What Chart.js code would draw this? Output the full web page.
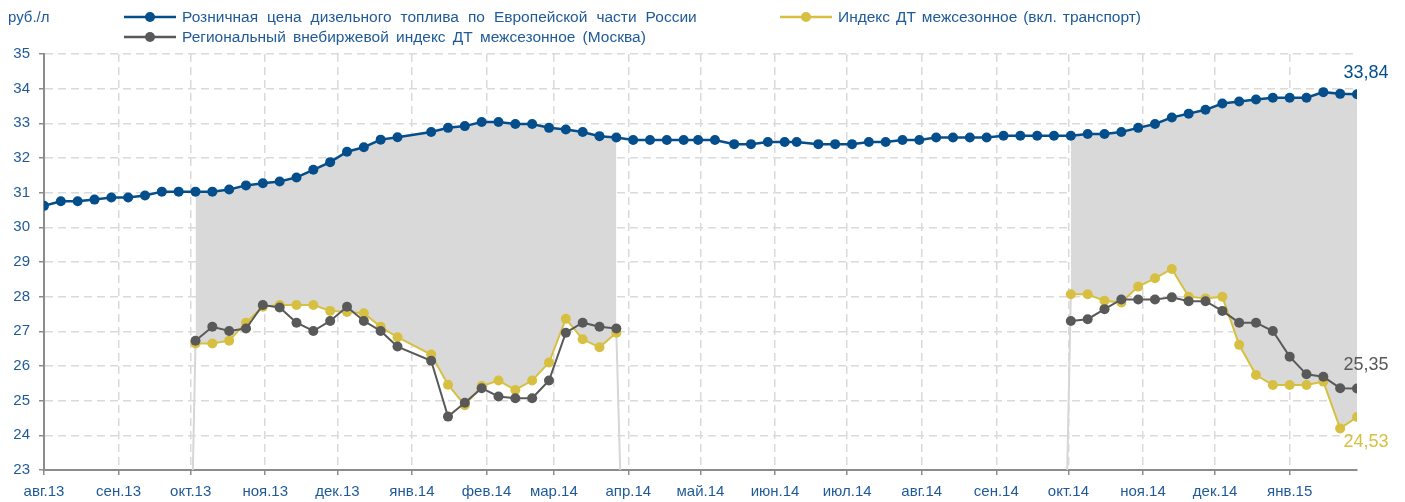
<!DOCTYPE html>
<html>
<head>
<meta charset="utf-8">
<script src="https://cdn.jsdelivr.net/npm/chart.js@4.4.0/dist/chart.umd.min.js"></script>
<style>
  html, body { margin: 0; padding: 0; background: #fff; }
  #wrap { width: 1405px; height: 502px; }
</style>
</head>
<body>
<div id="wrap"><canvas id="chart"></canvas></div>
<script>
// дни от 1 авг 2013
const indexDays = [0,7,14,21,28,35,42,49,56,63,70,77,84,91,98,105,112,119,126,133,140,147,
  161,168,175,182,189,196,203,210,217,224,231,238,245,252,259,266,272,279,
  287,294,301,308,313,322,329,336,343,350,357,364,371,378,385,392,399,406,413,420,
  427,434,441,448,455,462,469,476,483,490,497,504,511,518,525,532,539,546];

// Розничная цена ДТ, Европейская часть
const retail = [30.62,30.75,30.75,30.80,30.86,30.86,30.92,31.03,31.03,31.03,31.03,31.09,31.21,31.27,31.32,31.44,31.66,31.88,32.18,32.31,32.53,32.60,
  32.75,32.87,32.92,33.04,33.04,32.98,32.98,32.87,32.82,32.75,32.63,32.59,32.52,32.52,32.52,32.52,32.52,32.52,
  32.40,32.40,32.46,32.46,32.46,32.40,32.40,32.40,32.46,32.46,32.52,32.52,32.59,32.59,32.59,32.59,32.64,32.64,32.64,32.64,
  32.64,32.69,32.69,32.75,32.87,32.98,33.17,33.28,33.39,33.57,33.63,33.69,33.74,33.74,33.74,33.90,33.85,33.84];

// Региональный внебиржевой индекс (Москва)
const regional = [null,null,null,null,null,null,null,null,null,
  26.73,27.13,27.01,27.08,27.76,27.69,27.25,27.01,27.30,27.71,27.30,27.01,26.56,
  26.15,24.54,24.94,25.36,25.12,25.07,25.07,25.58,26.96,27.25,27.13,27.08,
  null,null,null,null,null,null,null,null,null,null,null,null,null,null,null,null,null,null,null,null,null,null,null,null,null,null,
  27.30,27.35,27.64,27.92,27.92,27.92,27.98,27.87,27.87,27.59,27.25,27.25,27.01,26.27,25.76,25.69,25.36,25.35];

// Индекс ДТ межсезонное (вкл. транспорт)
const transport = [null,null,null,null,null,null,null,null,null,
  26.65,26.65,26.73,27.25,27.71,27.76,27.76,27.76,27.59,27.56,27.52,27.13,26.83,
  26.33,25.46,24.87,25.42,25.58,25.31,25.58,26.10,27.36,26.77,26.54,26.96,
  null,null,null,null,null,null,null,null,null,null,null,null,null,null,null,null,null,null,null,null,null,null,null,null,null,null,
  28.07,28.07,27.88,27.83,28.29,28.53,28.80,28.00,27.95,28.00,26.61,25.74,25.45,25.45,25.45,25.55,24.20,24.53];

// края серой области (день точки -> день у оси)
const edgeDrops = [[63, 61.9], [238, 239.6], [427, 425.5]];

const monthDays = [0,31,61,92,122,153,184,212,243,273,304,334,365,396,426,457,487,518];
const monthLabels = ['авг.13','сен.13','окт.13','ноя.13','дек.13','янв.14','фев.14','мар.14','апр.14',
  'май.14','июн.14','июл.14','авг.14','сен.14','окт.14','ноя.14','дек.14','янв.15'];

const seriesNames = [
  'Розничная цена дизельного топлива по Европейской части России',
  'Региональный внебиржевой индекс ДТ межсезонное (Москва)',
  'Индекс ДТ межсезонное (вкл. транспорт)'
];

const BLUE = '#044e8c';
const GREY = '#595959';
const YELLOW = '#d7c041';
const TXT = '#1f5a98';
const FONT = '"Liberation Sans", Arial, sans-serif';

const toPts = arr => indexDays.map((d, i) => ({ x: d, y: arr[i] }));

const areaPts = indexDays.map((d, i) => ({ x: d, y: transport[i] == null ? null : retail[i] }));

const edgePts = [];
for (const [from, to] of edgeDrops) {
  edgePts.push({ x: from, y: transport[indexDays.indexOf(from)] });
  edgePts.push({ x: to, y: 23 });
  edgePts.push({ x: to, y: null });
}

const extrasPlugin = {
  id: 'extras',
  afterDraw(chart) {
    const ctx = chart.ctx;
    ctx.save();
    ctx.font = '15px ' + FONT;
    ctx.fillStyle = TXT;
    ctx.textBaseline = 'middle';
    ctx.textAlign = 'left';
    ctx.fillText('руб./л', 8, 18);

    // легенда (текст растянут по ширине, как в исходнике)
    const items = [
      { name: seriesNames[0], color: BLUE, x: 124, y: 17, w: 515 },
      { name: seriesNames[1], color: GREY, x: 124, y: 37, w: 464 },
      { name: seriesNames[2], color: YELLOW, x: 780, y: 17, w: 303 }
    ];
    ctx.font = '15.5px ' + FONT;
    for (const it of items) {
      ctx.strokeStyle = it.color;
      ctx.lineWidth = 2.5;
      ctx.beginPath();
      ctx.moveTo(it.x, it.y);
      ctx.lineTo(it.x + 52, it.y);
      ctx.stroke();
      ctx.fillStyle = it.color;
      ctx.beginPath();
      ctx.arc(it.x + 26, it.y, 5, 0, Math.PI * 2);
      ctx.fill();
      ctx.fillStyle = TXT;
      ctx.wordSpacing = '0px';
      const spaces = it.name.split(' ').length - 1;
      const extra = Math.max(0, (it.w - ctx.measureText(it.name).width) / spaces);
      ctx.wordSpacing = extra.toFixed(1) + 'px';
      ctx.fillText(it.name, it.x + 58, it.y + 1);
    }
    ctx.wordSpacing = '0px';

    // подписи последних значений
    const ends = [
      { ds: 2, color: BLUE, dy: -21 },
      { ds: 4, color: GREY, dy: -24 },
      { ds: 3, color: YELLOW, dy: 25 }
    ];
    ctx.font = '18px ' + FONT;
    ctx.textAlign = 'center';
    for (const e of ends) {
      const meta = chart.getDatasetMeta(e.ds);
      const pt = meta.data[meta.data.length - 1];
      const val = chart.data.datasets[e.ds].data[meta.data.length - 1].y;
      ctx.fillStyle = e.color;
      ctx.fillText(val.toFixed(2).replace('.', ','), pt.x + 9, pt.y + e.dy);
    }
    ctx.restore();
  }
};

const gridOpts = {
  color: '#dadada',
  lineWidth: 1.5,
  tickLength: 5,
  tickColor: '#8c8c8c',
  tickWidth: 1.5,
  tickBorderDash: []
};

new Chart(document.getElementById('chart'), {
  type: 'line',
  data: {
    datasets: [
      { label: 'area', data: areaPts, fill: 3, backgroundColor: '#d9d9d9', borderWidth: 0, pointRadius: 0, order: 6 },
      { label: 'edges', data: edgePts, borderColor: '#d6d6d6', borderWidth: 2, pointRadius: 0, fill: false, order: 5 },
      { label: seriesNames[0], data: toPts(retail), borderColor: BLUE, backgroundColor: BLUE, borderWidth: 2.5,
        pointRadius: 5, pointBorderWidth: 0, fill: false, order: 3 },
      { label: seriesNames[2], data: toPts(transport), borderColor: YELLOW, backgroundColor: YELLOW, borderWidth: 2,
        pointRadius: 5, pointBorderWidth: 0, fill: false, order: 2 },
      { label: seriesNames[1], data: toPts(regional), borderColor: GREY, backgroundColor: GREY, borderWidth: 2,
        pointRadius: 5, pointBorderWidth: 0, fill: false, order: 1 }
    ]
  },
  options: {
    responsive: true,
    maintainAspectRatio: false,
    animation: false,
    devicePixelRatio: 1,
    spanGaps: false,
    layout: { padding: { top: 54, right: 48, left: 0, bottom: 0 } },
    plugins: { legend: { display: false }, tooltip: { enabled: false } },
    scales: {
      x: {
        type: 'linear',
        min: 0,
        max: 546,
        afterFit(s) { s.height = 32; },
        afterBuildTicks(s) { s.ticks = monthDays.map(v => ({ value: v })); },
        ticks: {
          autoSkip: false,
          maxRotation: 0,
          padding: 8,
          color: TXT,
          font: { family: FONT, size: 15 },
          callback: (v, i) => monthLabels[i]
        },
        grid: gridOpts,
        border: { color: '#8c8c8c', width: 2, dash: [8, 5] }
      },
      y: {
        min: 23,
        max: 35,
        afterFit(s) { s.width = 44; },
        ticks: { stepSize: 1, padding: 9, color: TXT, font: { family: FONT, size: 15 } },
        grid: gridOpts,
        border: { color: '#8c8c8c', width: 2, dash: [8, 5] }
      }
    }
  },
  plugins: [extrasPlugin]
});
</script>
</body>
</html>
